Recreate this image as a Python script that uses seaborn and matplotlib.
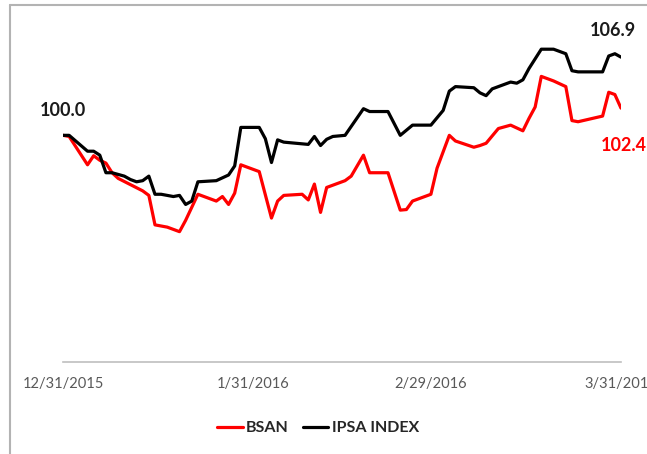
import pandas as pd
import matplotlib.pyplot as plt
import seaborn as sns
from matplotlib.lines import Line2D

# IPSA index (rebased to 100 on 12/31/2015)
ipsa_dates = ["2015-12-31", "2016-01-01", "2016-01-04", "2016-01-05", "2016-01-06",
              "2016-01-07", "2016-01-08", "2016-01-10", "2016-01-11", "2016-01-12",
              "2016-01-13", "2016-01-14", "2016-01-15", "2016-01-16", "2016-01-18",
              "2016-01-19", "2016-01-20", "2016-01-21", "2016-01-22", "2016-01-25",
              "2016-01-27", "2016-01-28", "2016-01-29", "2016-02-01", "2016-02-02",
              "2016-02-03", "2016-02-04", "2016-02-05", "2016-02-09", "2016-02-10",
              "2016-02-11", "2016-02-12", "2016-02-13", "2016-02-15", "2016-02-18",
              "2016-02-19", "2016-02-22", "2016-02-24", "2016-02-26", "2016-02-29",
              "2016-03-02", "2016-03-03", "2016-03-04", "2016-03-07", "2016-03-08",
              "2016-03-09", "2016-03-10", "2016-03-13", "2016-03-14", "2016-03-15",
              "2016-03-16", "2016-03-18", "2016-03-20", "2016-03-22", "2016-03-23",
              "2016-03-24", "2016-03-28", "2016-03-29", "2016-03-30", "2016-03-31"]
ipsa_vals = [100.0, 100.0, 98.6, 98.6, 98.25,
             96.7, 96.7, 96.4, 96.1, 95.9,
             96.0, 96.4, 94.8, 94.8, 94.6,
             94.7, 93.9, 94.2, 95.9, 96.0,
             96.5, 97.3, 100.7, 100.7, 99.7,
             97.6, 99.6, 99.4, 99.2, 99.9,
             99.1, 99.65, 99.9, 100.0, 102.35,
             102.1, 102.1, 100.0, 100.9, 100.9,
             102.2, 103.9, 104.3, 104.2, 103.75,
             103.5, 104.1, 104.7, 104.6, 104.9,
             105.9, 107.6, 107.6, 107.2, 105.7,
             105.6, 105.6, 107.0, 107.2, 106.9]

# BSAN (rebased to 100 on 12/31/2015)
bsan_dates = ["2015-12-31", "2016-01-01", "2016-01-04", "2016-01-05", "2016-01-06",
              "2016-01-07", "2016-01-08", "2016-01-09", "2016-01-13", "2016-01-14",
              "2016-01-15", "2016-01-17", "2016-01-19", "2016-01-20", "2016-01-22",
              "2016-01-23", "2016-01-25", "2016-01-26", "2016-01-27", "2016-01-28",
              "2016-01-29", "2016-02-01", "2016-02-03", "2016-02-04", "2016-02-05",
              "2016-02-08", "2016-02-09", "2016-02-10", "2016-02-11", "2016-02-12",
              "2016-02-15", "2016-02-16", "2016-02-18", "2016-02-19", "2016-02-22",
              "2016-02-24", "2016-02-25", "2016-02-26", "2016-02-29", "2016-03-01",
              "2016-03-03", "2016-03-04", "2016-03-07", "2016-03-08", "2016-03-09",
              "2016-03-11", "2016-03-13", "2016-03-15", "2016-03-16", "2016-03-17",
              "2016-03-18", "2016-03-20", "2016-03-22", "2016-03-23", "2016-03-24",
              "2016-03-28", "2016-03-29", "2016-03-30", "2016-03-31"]
bsan_vals = [100.0, 99.9, 97.4, 98.2, 97.8,
             97.55, 96.7, 96.2, 95.1, 94.7,
             92.1, 91.9, 91.5, 92.5, 94.8,
             94.6, 94.2, 94.6, 93.9, 94.9,
             97.4, 96.8, 92.7, 94.2, 94.7,
             94.8, 94.3, 95.7, 93.2, 95.4,
             96.0, 96.4, 98.25, 96.7, 96.7,
             93.4, 93.45, 94.2, 94.8, 97.1,
             100.0, 99.5, 98.95, 99.1, 99.3,
             100.6, 100.9, 100.4, 101.5, 102.5,
             105.2, 104.8, 104.3, 101.3, 101.2,
             101.7, 103.8, 103.6, 102.4]

tick_dates = ["2015-12-31", "2016-01-31", "2016-02-29", "2016-03-31"]
tick_labels = ["12/31/2015", "1/31/2016", "2/29/2016", "3/31/2016"]

sns.set_style("white")
plt.rcParams["font.family"] = ["Lato", "DejaVu Sans"]

fig = plt.figure(figsize=(6.47, 4.54), dpi=100)
ax = fig.add_axes([63 / 647, 1 - 362 / 454, (621 - 63) / 647, (362 - 22) / 454])

ipsa_x = pd.to_datetime(ipsa_dates)
bsan_x = pd.to_datetime(bsan_dates)

sns.lineplot(x=bsan_x, y=bsan_vals, color="#ff0000", linewidth=2.3, label="BSAN", ax=ax)
sns.lineplot(x=ipsa_x, y=ipsa_vals, color="black", linewidth=2.3, label="IPSA INDEX", ax=ax)

ax.set_xlim(pd.Timestamp(tick_dates[0]), pd.Timestamp(tick_dates[-1]))
ax.set_ylim(80, 110)
ax.set_xticks(pd.to_datetime(tick_dates))
ax.set_xticklabels(tick_labels)
ax.set_yticks([])
ax.set_xlabel("")
ax.set_ylabel("")

for s in ["left", "top", "right"]:
    ax.spines[s].set_visible(False)
ax.spines["bottom"].set_color("#bfbfbf")
ax.spines["bottom"].set_linewidth(1.2)
ax.tick_params(axis="x", direction="out", length=5, width=1.2, color="#bfbfbf",
               labelcolor="#595959", labelsize=10.5, pad=6)

# end labels
ax.annotate(f"{ipsa_vals[0]:.1f}", (ipsa_x[0], ipsa_vals[0]), xytext=(0, 18),
            textcoords="offset points", ha="center", va="center",
            fontsize=13, fontweight="bold", color="#1a1a1a", annotation_clip=False)
ax.annotate(f"{ipsa_vals[-1]:.1f}", (ipsa_x[-1], ipsa_vals[-1]), xytext=(-6, 19.5),
            textcoords="offset points", ha="center", va="center",
            fontsize=13, fontweight="bold", color="#1a1a1a", annotation_clip=False)
ax.annotate(f"{bsan_vals[-1]:.1f}", (bsan_x[-1], bsan_vals[-1]), xytext=(2, -27),
            textcoords="offset points", ha="center", va="center",
            fontsize=13, fontweight="bold", color="#ff0000", annotation_clip=False)

ax.legend(loc="center", bbox_to_anchor=(318 / 647, 1 - 428 / 454),
          bbox_transform=fig.transFigure, ncol=2, frameon=False,
          handlelength=1.6, handletextpad=0.2, columnspacing=0.9,
          prop={"weight": "bold", "size": 11.5})

# chart area border (cropped screenshot: only left and top visible)
fig.add_artist(Line2D([10 / 647, 10 / 647], [0, 1 - 5 / 454], color="#b3b3b3", lw=1.5))
fig.add_artist(Line2D([10 / 647, 1], [1 - 5 / 454, 1 - 5 / 454], color="#b3b3b3", lw=1.5))

fig.savefig("out.png", dpi=100)
